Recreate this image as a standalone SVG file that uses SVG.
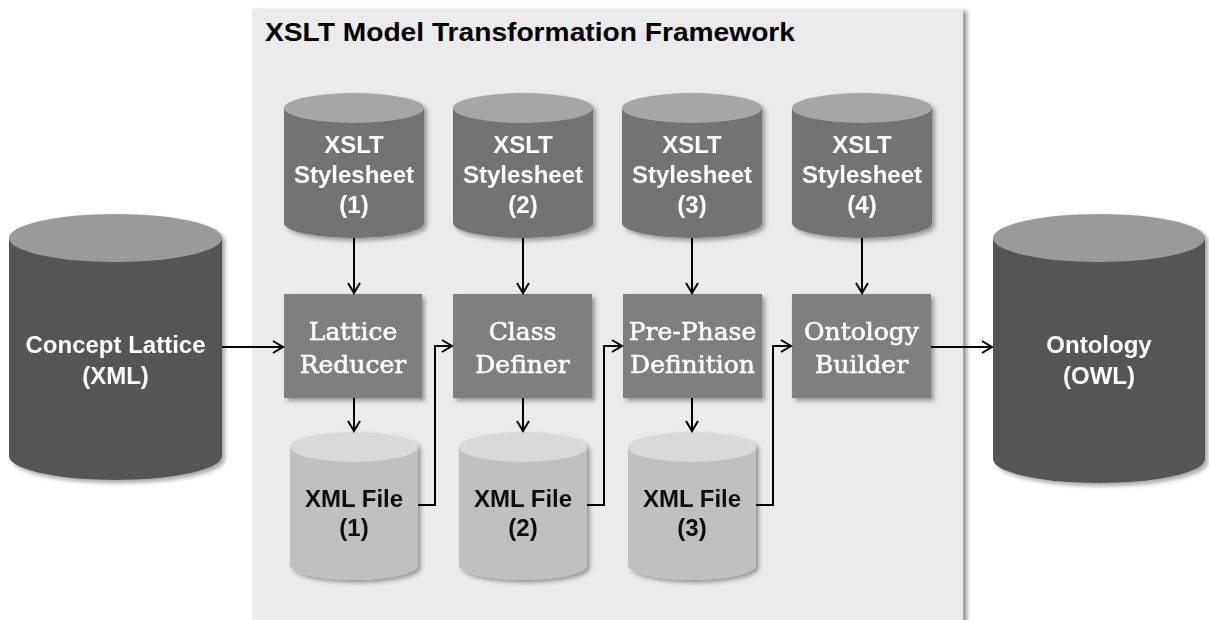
<svg xmlns="http://www.w3.org/2000/svg" width="1209" height="620" viewBox="0 0 1209 620">
  <defs>
    <filter id="shadow" x="-10%" y="-10%" width="130%" height="130%">
      <feDropShadow dx="3" dy="3" stdDeviation="2" flood-color="#000" flood-opacity="0.35"/>
    </filter>
    <filter id="panelShadow" x="-5%" y="-5%" width="110%" height="110%">
      <feDropShadow dx="4" dy="2" stdDeviation="2" flood-color="#000" flood-opacity="0.4"/>
    </filter>
    <marker id="arrow" markerUnits="userSpaceOnUse" markerWidth="14" markerHeight="16" refX="11" refY="7" orient="auto">
      <path d="M1,1 L11,7 L1,13" fill="none" stroke="#000" stroke-width="2"/>
    </marker>
  </defs>
  <style>
    .panel { fill: #ebebeb; }
    .title { font-family: "Liberation Sans", Arial, sans-serif; font-weight: bold; font-size: 26px; fill: #000; }
    .cyl-text { font-family: "Liberation Sans", Arial, sans-serif; font-weight: bold; font-size: 24px; text-anchor: middle; }
    .box-text { font-family: "DejaVu Serif", "Liberation Serif", serif; font-size: 25px; fill: #fff; stroke: #fff; stroke-width: 0.6; text-anchor: middle; }
    .dark-body { fill: #555555; }
    .dark-top { fill: #9a9a9a; }
    .xslt-body { fill: #737373; }
    .xslt-top { fill: #a6a6a6; }
    .xml-body { fill: #c0c0c0; }
    .xml-top { fill: #d9d9d9; }
    .box { fill: #7f7f7f; }
    .white { fill: #fff; }
    .black { fill: #111; }
    .conn { fill: none; stroke: #000; stroke-width: 2; marker-end: url(#arrow); }
  </style>

  <rect width="1209" height="620" fill="#fff"/>

  <!-- framework panel -->
  <g id="framework">
    <rect class="panel" x="252" y="9" width="711" height="620" filter="url(#panelShadow)"/>
    <text class="title" x="265" y="41" textLength="530" lengthAdjust="spacingAndGlyphs">XSLT Model Transformation Framework</text>
  </g>

  <!-- input store -->
  <g id="concept-lattice" filter="url(#shadow)">
    <path class="dark-body" d="M9,238 L9,456 A106.5,24 0 0 0 222,456 L222,238 Z"/>
    <ellipse class="dark-top" cx="115.5" cy="238" rx="106.5" ry="24"/>
    <text class="cyl-text white" x="115.5" y="353">Concept Lattice</text>
    <text class="cyl-text white" x="115.5" y="384">(XML)</text>
  </g>

  <!-- output store -->
  <g id="ontology" filter="url(#shadow)">
    <path class="dark-body" d="M993,238 L993,459 A106,24 0 0 0 1205,459 L1205,238 Z"/>
    <ellipse class="dark-top" cx="1099" cy="238" rx="106" ry="24"/>
    <text class="cyl-text white" x="1099" y="353">Ontology</text>
    <text class="cyl-text white" x="1099" y="384">(OWL)</text>
  </g>

  <!-- stylesheets -->
  <g id="stylesheet-1" filter="url(#shadow)">
    <path class="xslt-body" d="M284,108 L284,223 A70,15 0 0 0 424,223 L424,108 Z"/>
    <ellipse class="xslt-top" cx="354" cy="108" rx="70" ry="15"/>
    <text class="cyl-text white" x="354" y="153">XSLT</text>
    <text class="cyl-text white" x="354" y="183">Stylesheet</text>
    <text class="cyl-text white" x="354" y="213">(1)</text>
  </g>
  <g id="stylesheet-2" filter="url(#shadow)">
    <path class="xslt-body" d="M453,108 L453,223 A70,15 0 0 0 593,223 L593,108 Z"/>
    <ellipse class="xslt-top" cx="523" cy="108" rx="70" ry="15"/>
    <text class="cyl-text white" x="523" y="153">XSLT</text>
    <text class="cyl-text white" x="523" y="183">Stylesheet</text>
    <text class="cyl-text white" x="523" y="213">(2)</text>
  </g>
  <g id="stylesheet-3" filter="url(#shadow)">
    <path class="xslt-body" d="M622,108 L622,223 A70,15 0 0 0 762,223 L762,108 Z"/>
    <ellipse class="xslt-top" cx="692" cy="108" rx="70" ry="15"/>
    <text class="cyl-text white" x="692" y="153">XSLT</text>
    <text class="cyl-text white" x="692" y="183">Stylesheet</text>
    <text class="cyl-text white" x="692" y="213">(3)</text>
  </g>
  <g id="stylesheet-4" filter="url(#shadow)">
    <path class="xslt-body" d="M792,108 L792,223 A70,15 0 0 0 932,223 L932,108 Z"/>
    <ellipse class="xslt-top" cx="862" cy="108" rx="70" ry="15"/>
    <text class="cyl-text white" x="862" y="153">XSLT</text>
    <text class="cyl-text white" x="862" y="183">Stylesheet</text>
    <text class="cyl-text white" x="862" y="213">(4)</text>
  </g>

  <!-- processing steps -->
  <g id="lattice-reducer" filter="url(#shadow)">
    <rect class="box" x="284" y="294" width="138" height="104"/>
    <text class="box-text" x="353" y="340">Lattice</text>
    <text class="box-text" x="353" y="373">Reducer</text>
  </g>
  <g id="class-definer" filter="url(#shadow)">
    <rect class="box" x="453" y="294" width="139" height="104"/>
    <text class="box-text" x="522.5" y="340">Class</text>
    <text class="box-text" x="522.5" y="373">Definer</text>
  </g>
  <g id="pre-phase-definition" filter="url(#shadow)">
    <rect class="box" x="623" y="294" width="139" height="104"/>
    <text class="box-text" x="692.5" y="340">Pre-Phase</text>
    <text class="box-text" x="692.5" y="373">Definition</text>
  </g>
  <g id="ontology-builder" filter="url(#shadow)">
    <rect class="box" x="792" y="294" width="139" height="104"/>
    <text class="box-text" x="861.5" y="340">Ontology</text>
    <text class="box-text" x="861.5" y="373">Builder</text>
  </g>

  <!-- intermediate files -->
  <g id="xml-file-1" filter="url(#shadow)">
    <path class="xml-body" d="M290,447 L290,565 A64,15 0 0 0 418,565 L418,447 Z"/>
    <ellipse class="xml-top" cx="354" cy="447" rx="64" ry="15"/>
    <text class="cyl-text black" x="354" y="507">XML File</text>
    <text class="cyl-text black" x="354" y="536">(1)</text>
  </g>
  <g id="xml-file-2" filter="url(#shadow)">
    <path class="xml-body" d="M459,447 L459,565 A64,15 0 0 0 587,565 L587,447 Z"/>
    <ellipse class="xml-top" cx="523" cy="447" rx="64" ry="15"/>
    <text class="cyl-text black" x="523" y="507">XML File</text>
    <text class="cyl-text black" x="523" y="536">(2)</text>
  </g>
  <g id="xml-file-3" filter="url(#shadow)">
    <path class="xml-body" d="M628,447 L628,565 A64,15 0 0 0 756,565 L756,447 Z"/>
    <ellipse class="xml-top" cx="692" cy="447" rx="64" ry="15"/>
    <text class="cyl-text black" x="692" y="507">XML File</text>
    <text class="cyl-text black" x="692" y="536">(3)</text>
  </g>

  <!-- connectors -->
  <g id="connectors">
    <path class="conn" d="M222,347 L283,347"/>
    <path class="conn" d="M354,238 L354,293"/>
    <path class="conn" d="M523,238 L523,293"/>
    <path class="conn" d="M692,238 L692,293"/>
    <path class="conn" d="M862,238 L862,293"/>
    <path class="conn" d="M354,398 L354,431"/>
    <path class="conn" d="M523,398 L523,431"/>
    <path class="conn" d="M692,398 L692,431"/>
    <path class="conn" d="M418,505 L435,505 L435,346 L452,346"/>
    <path class="conn" d="M587,505 L604,505 L604,346 L622,346"/>
    <path class="conn" d="M756,505 L773,505 L773,346 L791,346"/>
    <path class="conn" d="M931,347 L992,347"/>
  </g>
</svg>
